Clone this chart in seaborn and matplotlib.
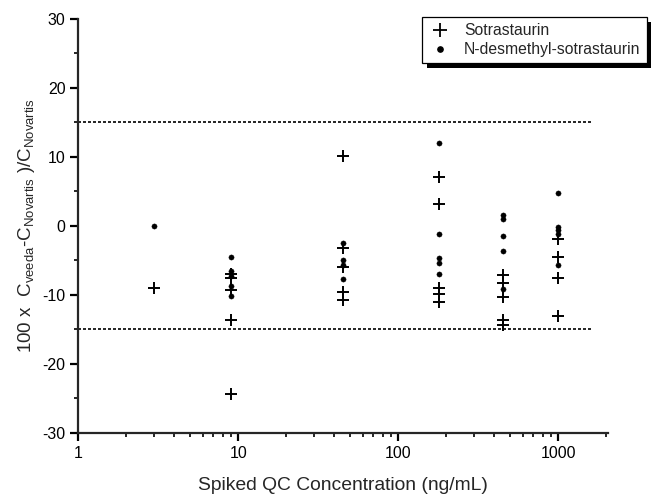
import numpy as np
import pandas as pd
import matplotlib
matplotlib.use("Agg")
import matplotlib.pyplot as plt
from matplotlib.lines import Line2D
from matplotlib.patches import Rectangle
from matplotlib.ticker import FixedLocator, NullFormatter, MultipleLocator
import seaborn as sns

# Spiked QC levels (ng/mL) and % differences
qc_levels = [3, 9, 45, 180, 450, 1000]
sotrastaurin = [
    [-9.0],
    [-7.0, -7.5, -9.3, -13.6, -24.3],
    [10.2, -3.2, -5.9, -9.6, -10.8],
    [7.1, 3.2, -9.0, -9.8, -11.0],
    [-7.1, -8.3, -10.3, -13.7, -14.3],
    [-1.9, -4.5, -7.6, -13.1],
]
n_desmethyl = [
    [0.0],
    [-4.5, -6.6, -7.2, -8.7, -10.1],
    [-2.5, -4.9, -5.6, -7.7],
    [12.0, -1.2, -4.6, -5.3, -7.0],
    [1.6, 1.0, -1.4, -3.7, -9.1],
    [4.8, -0.1, -0.6, -1.1, -5.7],
]
limits = [15, -15]
compounds = ["Sotrastaurin", "N-desmethyl-sotrastaurin"]

rows = []
for name, series in zip(compounds, [sotrastaurin, n_desmethyl]):
    for conc, vals in zip(qc_levels, series):
        for v in vals:
            rows.append({"conc": conc, "diff": v, "compound": name})
df = pd.DataFrame(rows)

sns.set_style("ticks")
plt.rcParams["font.family"] = ["Liberation Sans", "DejaVu Sans"]
plt.rcParams["mathtext.default"] = "regular"
plt.rcParams["axes.unicode_minus"] = False

fig = plt.figure(figsize=(6.51, 4.96), dpi=100)
ax = fig.add_axes([0.12, 0.127, 0.814, 0.835])

sns.scatterplot(data=df[df.compound == compounds[0]], x="conc", y="diff",
                marker="+", s=80, color="black", linewidth=1.4, ax=ax, legend=False)
sns.scatterplot(data=df[df.compound == compounds[1]], x="conc", y="diff",
                marker="o", s=14, color="black", edgecolor="black", ax=ax, legend=False)

for lim in limits:
    ax.hlines(lim, 1, 1600, colors="black", linestyles=(0, (1.8, 1.2)), linewidth=1.2)

ax.set_xscale("log")
ax.set_xlim(1, 2050)
ax.set_ylim(-30, 30)
ax.set_xticks([1, 10, 100, 1000])
ax.set_xticklabels(["1", "10", "100", "1000"])
minor = [m * 10 ** e for e in range(0, 4) for m in range(2, 10) if m * 10 ** e < 2050]
ax.xaxis.set_minor_locator(FixedLocator(minor))
ax.xaxis.set_minor_formatter(NullFormatter())
ax.yaxis.set_major_locator(MultipleLocator(10))
ax.yaxis.set_minor_locator(MultipleLocator(5))

sns.despine(ax=ax)
for sp in ["left", "bottom"]:
    ax.spines[sp].set_linewidth(1.6)
ax.tick_params(which="major", length=5.5, width=1.6, labelsize=11.5, colors="black")
ax.tick_params(which="minor", length=3, width=1.4)

ax.set_xlabel("Spiked QC Concentration (ng/mL)", fontsize=13.9, labelpad=12)
ax.set_ylabel(r"100 x  C$_{veeda}$-C$_{Novartis}$ )/C$_{Novartis}$", fontsize=13.5, labelpad=4)

handles = [
    Line2D([], [], marker="+", color="black", linestyle="none", markersize=10, markeredgewidth=1.3),
    Line2D([], [], marker="o", color="black", linestyle="none", markersize=3.8),
]
leg = ax.legend(handles, compounds, loc="upper left", bbox_to_anchor=(0.648, 0.966),
                bbox_transform=fig.transFigure, borderaxespad=0, fontsize=11.3,
                frameon=True, fancybox=False, edgecolor="black", framealpha=1,
                handletextpad=0.8, labelspacing=0.25, borderpad=0.4, handlelength=1.5)
leg.get_frame().set_linewidth(0.9)

fig.canvas.draw()
bb = leg.get_window_extent()
shadow = Rectangle((bb.x0 + 5, bb.y0 - 5), bb.width, bb.height, transform=None,
                   facecolor="black", edgecolor="none", zorder=4.9, clip_on=False)
ax.add_artist(shadow)

fig.savefig("out.png", dpi=100)
